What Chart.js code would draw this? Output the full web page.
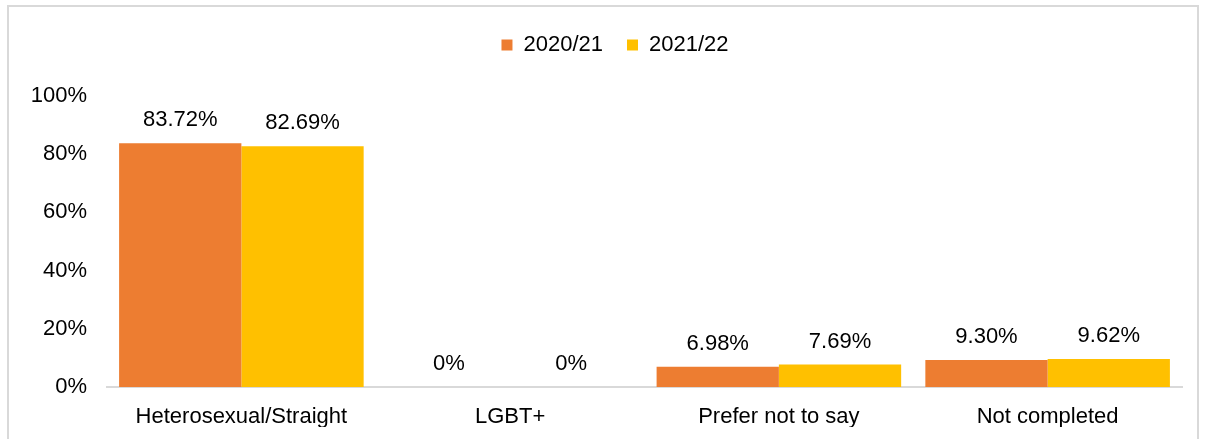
<!DOCTYPE html>
<html>
<head>
<meta charset="utf-8">
<script src="https://cdn.jsdelivr.net/npm/chart.js@4"></script>
<style>
  html, body { margin: 0; padding: 0; background: #fff; overflow: hidden; }
  #wrap { position: absolute; left: 0; top: 0; width: 1209px; height: 439px; }
  #frame {
    position: absolute; left: 7px; top: 5px; width: 1192px; height: 460px;
    border: 2px solid #d9d9d9; box-sizing: border-box; pointer-events: none;
  }
</style>
</head>
<body>
<div id="wrap"><canvas id="chart" width="1209" height="439"></canvas></div>
<div id="frame"></div>
<script>
const categories = ["Heterosexual/Straight", "LGBT+", "Prefer not to say", "Not completed"];
const seriesNames = ["2020/21", "2021/22"];
const values2020 = [83.72, 0, 6.98, 9.30];
const values2021 = [82.69, 0, 7.69, 9.62];
const yTicks = [0, 20, 40, 60, 80, 100];

const colors = ["#ED7D31", "#FFC000"];
const FONT = "'Liberation Sans', Arial, sans-serif";
const FONT_SIZE = 22;

function formatValue(v) {
    return v === 0 ? "0%" : v.toFixed(2) + "%";
}

// Draw value labels above each bar
const valueLabels = {
    id: "valueLabels",
    afterDatasetsDraw(chart) {
        const ctx = chart.ctx;
        ctx.save();
        ctx.font = FONT_SIZE + "px " + FONT;
        ctx.fillStyle = "#000";
        ctx.textAlign = "center";
        ctx.textBaseline = "middle";
        chart.data.datasets.forEach((ds, i) => {
            chart.getDatasetMeta(i).data.forEach((bar, j) => {
                ctx.fillText(formatValue(ds.data[j]), bar.x, bar.y - 23);
            });
        });
        ctx.restore();
    },
};

// Fixed legend height so the plot starts lower, legend nudged right
const legendLayout = {
    id: "legendLayout",
    afterInit(chart) {
        const legend = chart.legend;
        const fit = legend.fit;
        legend.fit = function () {
            fit.call(this);
            this.height = 86;
        };
    },
    afterLayout(chart) {
        chart.legend.left = 48;
    },
};

new Chart(document.getElementById("chart"), {
    type: "bar",
    data: {
        labels: categories,
        datasets: [
            { label: seriesNames[0], data: values2020, backgroundColor: colors[0] },
            { label: seriesNames[1], data: values2021, backgroundColor: colors[1] },
        ],
    },
    options: {
        responsive: false,
        animation: false,
        events: [],
        categoryPercentage: 0.91,
        barPercentage: 1,
        layout: { padding: { left: 0, right: 27, top: 10, bottom: 12 } },
        plugins: {
            legend: {
                position: "top",
                labels: {
                    boxWidth: 11,
                    boxHeight: 11,
                    padding: 24,
                    color: "#000",
                    font: { family: FONT, size: FONT_SIZE },
                },
            },
            tooltip: { enabled: false },
        },
        scales: {
            x: {
                afterFit: (scale) => { scale.height = 40; },
                grid: { display: false, drawTicks: false },
                border: { display: true, color: "#d9d9d9", width: 2 },
                ticks: { color: "#000", padding: 17, font: { family: FONT, size: FONT_SIZE } },
            },
            y: {
                min: 0,
                max: 100,
                afterBuildTicks: (scale) => { scale.ticks = yTicks.map((v) => ({ value: v })); },
                afterFit: (scale) => { scale.width = 107; },
                grid: { display: false, drawTicks: false },
                border: { display: false },
                ticks: {
                    color: "#000",
                    padding: 20,
                    font: { family: FONT, size: FONT_SIZE },
                    callback: (v) => v + "%",
                },
            },
        },
    },
    plugins: [valueLabels, legendLayout],
});
</script>
</body>
</html>
